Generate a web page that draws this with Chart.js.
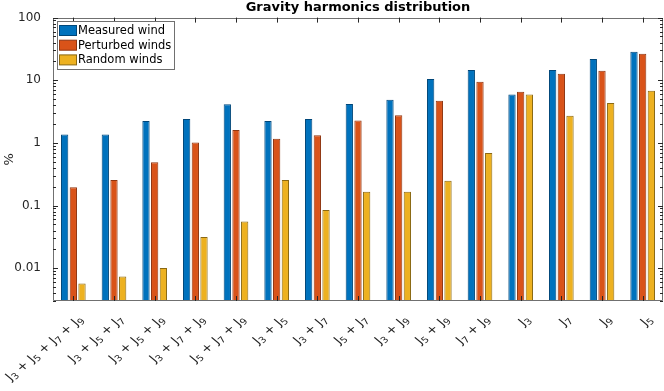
<!DOCTYPE html>
<html>
<head>
<meta charset="utf-8">
<script src="https://cdn.jsdelivr.net/npm/chart.js@4/dist/chart.umd.min.js"></script>
<style>
  html, body { margin: 0; padding: 0; background: #fff; }
  #wrap { width: 664px; height: 391px; }
</style>
</head>
<body>
<div id="wrap"><canvas id="chartHarmonics" width="664" height="391"></canvas></div>
<script>
// categorias e valores
const categorias = [
  "J₃ + J₅ + J₇ + J₉",
  "J₃ + J₅ + J₇",
  "J₃ + J₅ + J₉",
  "J₃ + J₇ + J₉",
  "J₅ + J₇ + J₉",
  "J₃ + J₅",
  "J₃ + J₇",
  "J₅ + J₇",
  "J₃ + J₉",
  "J₅ + J₉",
  "J₇ + J₉",
  "J₃",
  "J₇",
  "J₉",
  "J₅",
];
const measuredWind = [1.36, 1.36, 2.24, 2.41, 4.13, 2.24, 2.41, 4.19, 4.9, 10.5, 14.6, 5.9, 14.6, 21.9, 28.6];
const perturbedWinds = [0.196, 0.257, 0.49, 1.02, 1.61, 1.17, 1.32, 2.27, 2.76, 4.73, 9.5, 6.58, 12.7, 14.2, 26.6];
const randomWinds = [0.0057, 0.0074, 0.0101, 0.0316, 0.0556, 0.257, 0.085, 0.166, 0.166, 0.248, 0.69, 5.9, 2.72, 4.35, 6.8];
const yTicks = [0.01, 0.1, 1, 10, 100];

const FONTE = "'DejaVu Sans', 'Liberation Sans', sans-serif";
const COR_EIXO = "#262626";
const SUBS = "₀₁₂₃₄₅₆₇₈₉";

const series = [
  { label: "Measured wind", data: measuredWind, cor: "#0072BD", borda: "#00477a" },
  { label: "Perturbed winds", data: perturbedWinds, cor: "#D95319", borda: "#8f3510" },
  { label: "Random winds", data: randomWinds, cor: "#EDB120", borda: "#8a6812" },
];

// separa o rótulo em trechos normais e índices (subscritos)
function partesRotulo(txt) {
  const partes = [];
  for (const ch of txt) {
    const i = SUBS.indexOf(ch);
    const sub = i >= 0;
    const c = sub ? String(i) : ch;
    const ult = partes[partes.length - 1];
    if (ult && ult.sub === sub) ult.t += c;
    else partes.push({ t: c, sub });
  }
  return partes;
}

function desenharRotulo(ctx, txt, x, y) {
  const fNormal = "11.5px " + FONTE;
  const fSub = "8.5px " + FONTE;
  const partes = partesRotulo(txt);
  let total = 0;
  partes.forEach((p) => {
    ctx.font = p.sub ? fSub : fNormal;
    p.w = ctx.measureText(p.t).width;
    total += p.w;
  });
  ctx.save();
  ctx.translate(x, y);
  ctx.scale(1.2, 1); // a figura original está esticada na horizontal
  ctx.rotate(-Math.PI / 4);
  let cx = -total;
  partes.forEach((p) => {
    ctx.font = p.sub ? fSub : fNormal;
    ctx.fillText(p.t, cx, p.sub ? 3 : 0);
    cx += p.w;
  });
  ctx.restore();
}

// caixa dos eixos, marcas, rótulos x e legenda no estilo MATLAB
const eixosPlugin = {
  id: "eixosMatlab",
  afterDatasetsDraw(chart) {
    const { ctx, chartArea: a, scales } = chart;
    const y = scales.y;
    const x = scales.x;
    ctx.save();
    ctx.strokeStyle = "#707070";
    ctx.lineWidth = 1;
    ctx.beginPath();
    ctx.rect(Math.round(a.left) + 0.5, Math.round(a.top) + 0.5,
      Math.round(a.right - a.left) - 1, Math.round(a.bottom - a.top) - 1);
    ctx.stroke();

    ctx.strokeStyle = COR_EIXO;
    ctx.beginPath();
    // marcas do eixo y (maiores e menores)
    for (let e = -3; e <= 2; e++) {
      for (let k = 1; k <= 9; k++) {
        const v = k * Math.pow(10, e);
        if (v < y.min || v > y.max) continue;
        const py = Math.round(y.getPixelForValue(v)) + 0.5;
        const len = k === 1 ? 5 : 3;
        ctx.moveTo(a.left, py);
        ctx.lineTo(a.left + len, py);
        ctx.moveTo(a.right, py);
        ctx.lineTo(a.right - len, py);
      }
    }
    // marcas do eixo x
    categorias.forEach((c, i) => {
      const px = Math.round(x.getPixelForValue(i)) + 0.5;
      ctx.moveTo(px, a.bottom);
      ctx.lineTo(px, a.bottom - 5);
      ctx.moveTo(px, a.top);
      ctx.lineTo(px, a.top + 5);
    });
    ctx.stroke();

    // rótulos do eixo x (rotacionados)
    ctx.fillStyle = COR_EIXO;
    ctx.textBaseline = "middle";
    ctx.textAlign = "left";
    categorias.forEach((c, i) => {
      const px = x.getPixelForValue(i);
      desenharRotulo(ctx, c, px + 8, a.bottom + 17);
    });

    // legenda
    const lx = 57.5, ly = 21.5, lw = 117, lh = 48;
    ctx.fillStyle = "#fff";
    ctx.fillRect(lx, ly, lw, lh);
    ctx.strokeStyle = "#707070";
    ctx.strokeRect(lx, ly, lw, lh);
    ctx.font = "11.5px " + FONTE;
    ctx.textBaseline = "middle";
    series.forEach((s, i) => {
      const cy = ly + 9 + i * 14.7;
      ctx.fillStyle = s.cor;
      ctx.fillRect(lx + 2, cy - 5, 17, 10);
      ctx.strokeStyle = s.borda;
      ctx.strokeRect(lx + 2, cy - 5, 17, 10);
      ctx.fillStyle = "#000";
      ctx.fillText(s.label, lx + 20.5, cy + 0.5);
    });
    ctx.restore();
  },
};

const ctx = document.getElementById("chartHarmonics");
new Chart(ctx.getContext("2d"), {
  type: "bar",
  data: {
    labels: categorias,
    datasets: series.map((s) => ({
      label: s.label,
      data: s.data,
      backgroundColor: s.cor,
      borderColor: s.borda,
      borderWidth: 1,
      categoryPercentage: 0.64,
      barPercentage: 0.84,
    })),
  },
  options: {
    responsive: false,
    animation: false,
    devicePixelRatio: 1,
    layout: { padding: { top: 0, right: 1, bottom: 0, left: 0 } },
    plugins: {
      legend: { display: false },
      tooltip: { enabled: false },
      title: {
        display: true,
        text: "Gravity harmonics distribution",
        fullSize: false,
        color: "#000",
        font: { family: FONTE, size: 13, weight: "bold" },
        padding: { top: 0, bottom: 2 },
      },
    },
    scales: {
      x: {
        type: "category",
        grid: { display: false },
        border: { display: false },
        ticks: { display: false },
        afterFit(scale) {
          scale.height = 90;
          scale.paddingLeft = 0;
          scale.paddingRight = 0;
        },
      },
      y: {
        type: "logarithmic",
        min: 0.003,
        max: 100,
        grid: { display: false },
        border: { display: false },
        title: {
          display: true,
          text: "%",
          color: COR_EIXO,
          font: { family: FONTE, size: 13 },
          padding: { top: 2, bottom: 0 },
        },
        ticks: {
          padding: 4,
          color: COR_EIXO,
          font: { family: FONTE, size: 12 },
          callback: (v) => String(v),
        },
        afterBuildTicks(scale) {
          scale.ticks = yTicks.map((v) => ({ value: v }));
        },
        afterFit(scale) {
          scale.width = 53;
        },
      },
    },
  },
  plugins: [eixosPlugin],
});
</script>
</body>
</html>
